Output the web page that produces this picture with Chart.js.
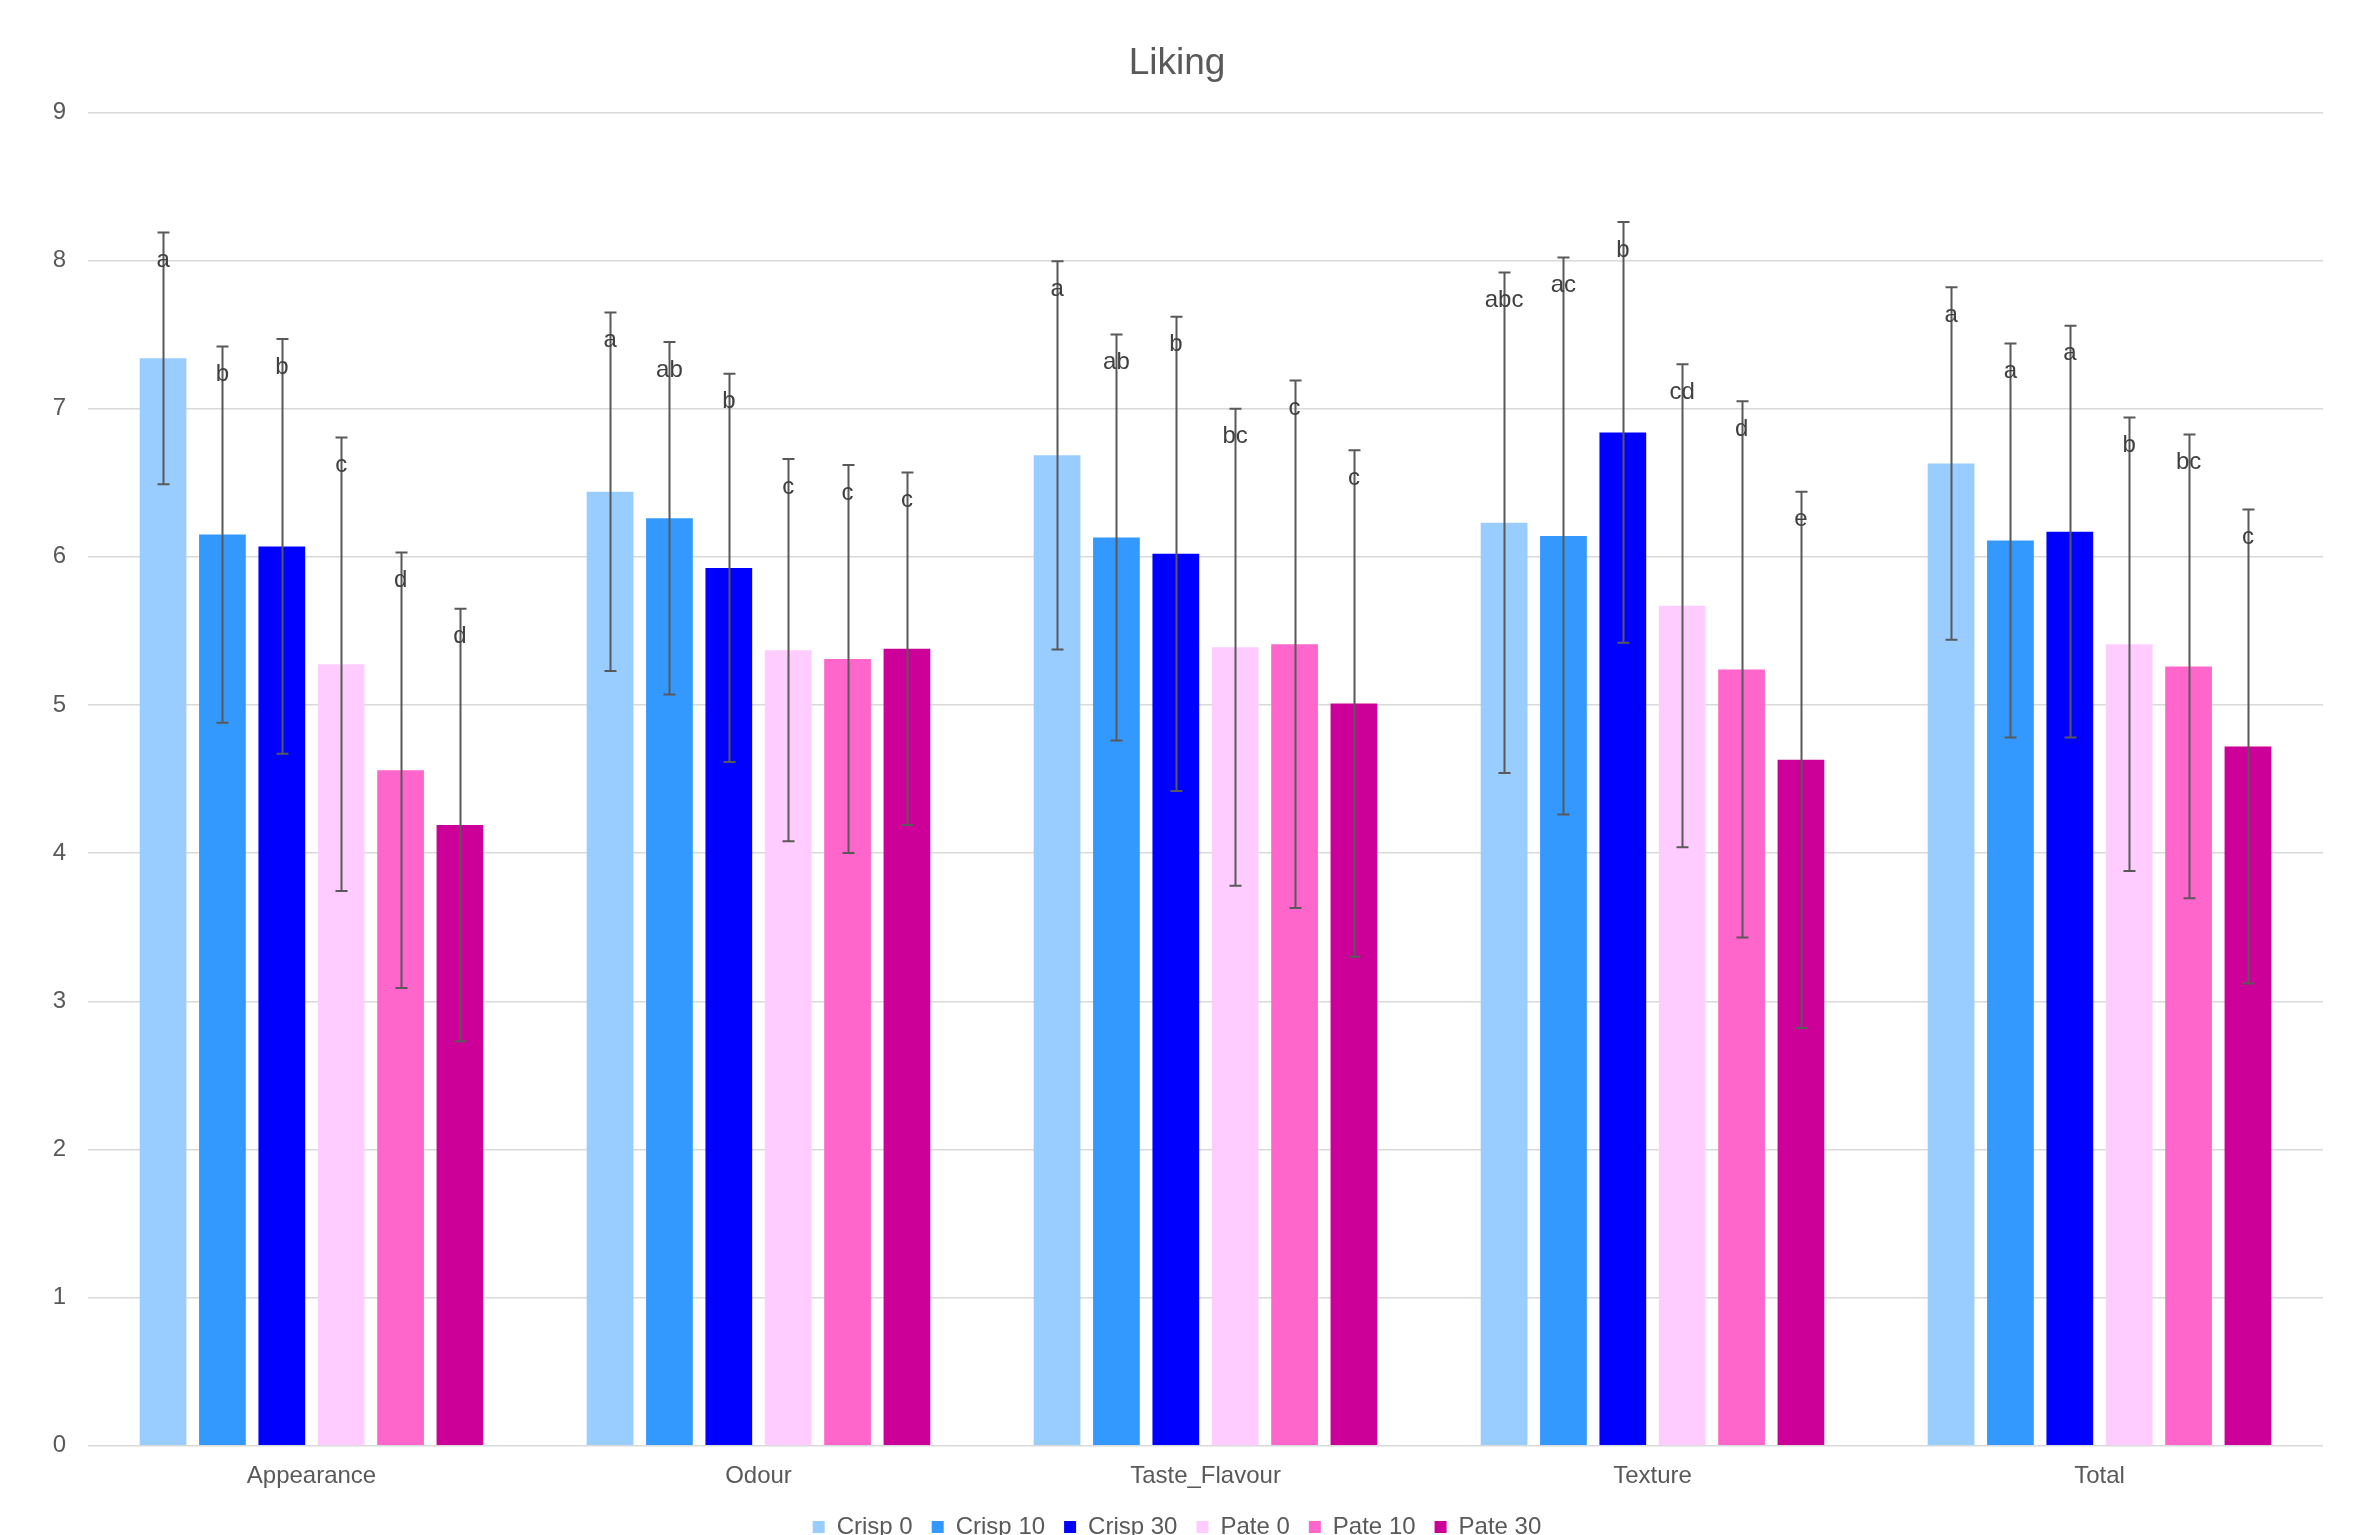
<!DOCTYPE html>
<html>
<head>
<meta charset="utf-8">
<title>Liking</title>
<script src="https://cdn.jsdelivr.net/npm/chart.js@4.4.1/dist/chart.umd.min.js"></script>
<style>
  html, body { margin: 0; padding: 0; background: #ffffff; overflow: hidden; }
  canvas { display: block; }
</style>
</head>
<body>
<canvas id="c" width="2354" height="1549"></canvas>
<script>
// ---- Data ----
const categories = ["Appearance", "Odour", "Taste_Flavour", "Texture", "Total"];
const seriesNames = ["Crisp 0", "Crisp 10", "Crisp 30", "Pate 0", "Pate 10", "Pate 30"];

const crisp0  = [7.34, 6.44, 6.685, 6.23, 6.63];
const crisp10 = [6.15, 6.26, 6.13, 6.14, 6.11];
const crisp30 = [6.07, 5.925, 6.02, 6.84, 6.17];
const pate0   = [5.275, 5.37, 5.39, 5.67, 5.41];
const pate10  = [4.56, 5.31, 5.41, 5.24, 5.26];
const pate30  = [4.19, 5.38, 5.01, 4.63, 4.72];

const crisp0Err  = [0.85, 1.21, 1.31, 1.69, 1.19];
const crisp10Err = [1.27, 1.19, 1.37, 1.88, 1.33];
const crisp30Err = [1.40, 1.31, 1.60, 1.42, 1.39];
const pate0Err   = [1.53, 1.29, 1.61, 1.63, 1.53];
const pate10Err  = [1.47, 1.31, 1.78, 1.81, 1.565];
const pate30Err  = [1.46, 1.19, 1.71, 1.81, 1.60];

const crisp0Letters  = ["a", "a", "a", "abc", "a"];
const crisp10Letters = ["b", "ab", "ab", "ac", "a"];
const crisp30Letters = ["b", "b", "b", "b", "a"];
const pate0Letters   = ["c", "c", "bc", "cd", "b"];
const pate10Letters  = ["d", "c", "c", "d", "bc"];
const pate30Letters  = ["d", "c", "c", "e", "c"];

const yTicks = [0, 1, 2, 3, 4, 5, 6, 7, 8, 9];

const seriesValues = [crisp0, crisp10, crisp30, pate0, pate10, pate30];
const seriesErrors = [crisp0Err, crisp10Err, crisp30Err, pate0Err, pate10Err, pate30Err];
const seriesLetters = [crisp0Letters, crisp10Letters, crisp30Letters, pate0Letters, pate10Letters, pate30Letters];
const seriesColors = ["#99CCFF", "#3399FF", "#0000FF", "#FFCCFF", "#FF66CC", "#CC0099"];

const FONT = "'Liberation Sans', Arial, sans-serif";

const errorBarPlugin = {
  id: 'errorBars',
  afterDatasetsDraw(chart) {
    const ctx = chart.ctx;
    const y = chart.scales.y;
    ctx.save();
    // error bars
    chart.data.datasets.forEach((ds, di) => {
      const meta = chart.getDatasetMeta(di);
      meta.data.forEach((bar, i) => {
        const v = ds.data[i], e = ds.errors[i];
        const yt = y.getPixelForValue(v + e);
        const yb = y.getPixelForValue(v - e);
        const x = Math.round(bar.x) + 0.5;
        ctx.strokeStyle = '#595959';
        ctx.lineWidth = 2;
        ctx.beginPath();
        ctx.moveTo(x, yt); ctx.lineTo(x, yb);
        ctx.moveTo(x - 6, yt); ctx.lineTo(x + 6, yt);
        ctx.moveTo(x - 6, yb); ctx.lineTo(x + 6, yb);
        ctx.stroke();
      });
    });
    // letters
    ctx.font = "24px " + FONT;
    ctx.fillStyle = '#404040';
    ctx.textAlign = 'center';
    ctx.textBaseline = 'middle';
    chart.data.datasets.forEach((ds, di) => {
      const meta = chart.getDatasetMeta(di);
      meta.data.forEach((bar, i) => {
        const v = ds.data[i], e = ds.errors[i];
        const yt = y.getPixelForValue(v + e);
        ctx.fillText(ds.letters[i], bar.x, yt + 28);
      });
    });
    ctx.restore();
  }
};

const datasets = seriesNames.map((name, k) => ({
  label: name,
  data: seriesValues[k],
  errors: seriesErrors[k],
  letters: seriesLetters[k],
  backgroundColor: seriesColors[k],
  borderWidth: 0,
  categoryPercentage: 0.797,
  barPercentage: 0.787
}));

new Chart(document.getElementById('c'), {
  type: 'bar',
  data: { labels: categories, datasets },
  plugins: [errorBarPlugin],
  options: {
    responsive: false,
    animation: false,
    devicePixelRatio: 1,
    layout: { padding: { left: 0, right: 0, top: 0, bottom: 0 } },
    plugins: {
      title: {
        display: true,
        text: 'Liking',
        color: '#595959',
        font: { family: FONT, size: 37, weight: 'normal' },
        padding: { top: 42, bottom: 26 }
      },
      legend: {
        display: true,
        position: 'bottom',
        labels: {
          color: '#595959',
          font: { family: FONT, size: 24 },
          boxWidth: 12,
          boxHeight: 12,
          padding: 19
        }
      },
      tooltip: { enabled: false }
    },
    scales: {
      x: {
        grid: { display: false, drawTicks: false },
        border: { display: false },
        ticks: { color: '#595959', font: { family: FONT, size: 24 }, padding: 16 },
        afterFit(scale) { scale.height -= 10.5; }
      },
      y: {
        min: 0,
        max: 9,
        afterBuildTicks(scale) { scale.ticks = yTicks.map(v => ({ value: v })); },
        afterFit(scale) { scale.width = 88; },
        grid: { color: '#d9d9d9', lineWidth: 1.5, drawTicks: false },
        border: { display: false },
        ticks: { color: '#595959', font: { family: FONT, size: 24 }, padding: 22 }
      },
      yRight: {
        position: 'right',
        display: true,
        min: 0,
        max: 9,
        afterFit(scale) { scale.width = 31; },
        grid: { display: false, drawTicks: false },
        border: { display: false },
        ticks: { display: false }
      }
    }
  }
});
</script>
</body>
</html>
